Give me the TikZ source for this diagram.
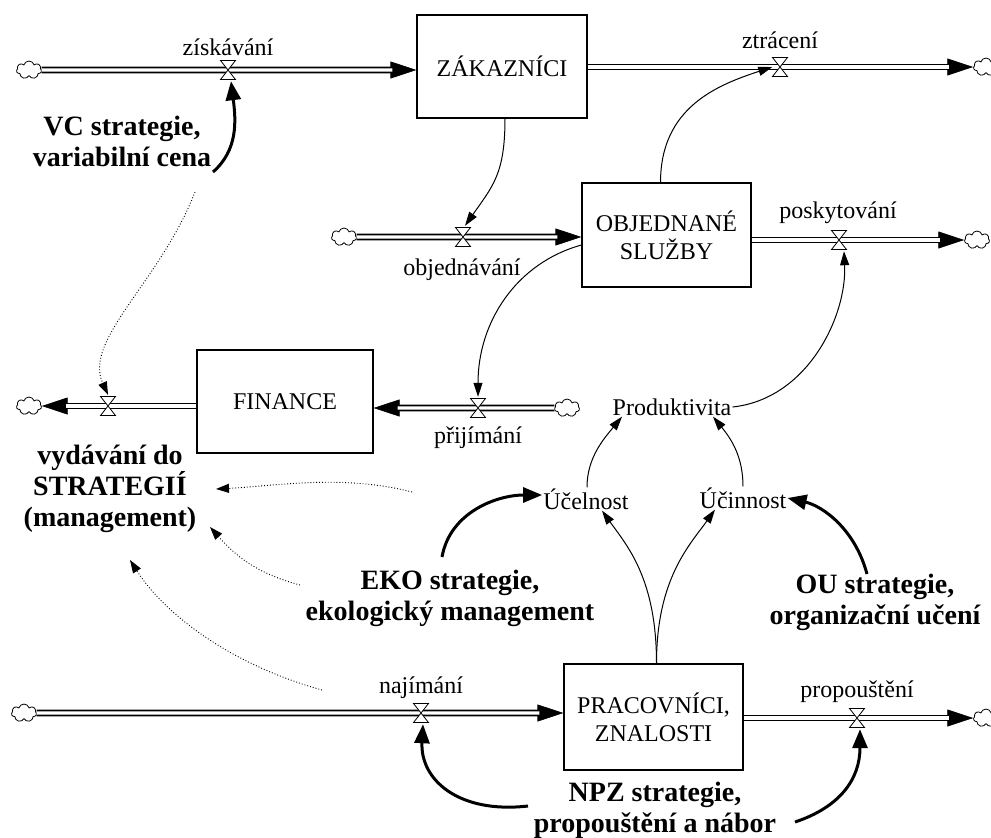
\documentclass[tikz,border=0pt]{standalone}
\usepackage{fontspec}
\setmainfont{Liberation Serif}
\usetikzlibrary{arrows.meta,shapes.symbols,calc}
\newcommand\normtext{\fontsize{24}{28}\selectfont}
\newcommand\strattext{\fontsize{28}{31}\selectfont\bfseries}
\tikzset{
  stockbox/.style={draw, line width=1.1pt, inner sep=0pt, align=center, font=\normtext},
  lbl/.style={font=\normtext, inner sep=1pt},
  strat/.style={font=\strattext, align=center, inner sep=1pt},
  cloudnode/.style={cloud, cloud puffs=7, cloud ignores aspect, draw, line width=0.8pt, minimum width=25pt, minimum height=18pt, inner sep=0pt},
  pipe/.style={draw, double, double distance=3.4pt, line width=1.6pt, shorten >=24pt},
  pipehead/.style={-{Triangle[length=26pt,width=17pt]}, line width=0.6pt},
  valve/.style={minimum width=19pt, minimum height=22pt, inner sep=0pt,
    path picture={\draw[fill=white, line width=0.8pt, line join=miter]
      ([xshift=2pt,yshift=-1.5pt]path picture bounding box.north west) --
      ([xshift=-2pt,yshift=-1.5pt]path picture bounding box.north east) --
      ([xshift=2pt,yshift=1.5pt]path picture bounding box.south west) --
      ([xshift=-2pt,yshift=1.5pt]path picture bounding box.south east) -- cycle;}},
  link/.style={-{Triangle[length=14pt,width=9pt]}, line width=1pt},
  boldlink/.style={-{Triangle[length=19pt,width=15pt]}, line width=3pt},
  dotlink/.style={-{Triangle[length=13pt,width=9pt]}, line width=0.9pt, dotted}
}
\begin{document}
\begin{tikzpicture}[x=1pt,y=-1pt]
\useasboundingbox (0,0) rectangle (991,838);

% stocks
\node[stockbox, minimum width=170pt, minimum height=103pt] (zak) at (502,66.5) {ZÁKAZNÍCI};
\node[stockbox, minimum width=169pt, minimum height=104pt] (obj) at (666.5,235) {OBJEDNANÉ\\SLUŽBY};
\node[stockbox, minimum width=176pt, minimum height=103pt] (fin) at (285,401.5) {FINANCE};
\node[stockbox, minimum width=179pt, minimum height=106pt] (pra) at (653.5,717) {PRACOVNÍCI,\\ZNALOSTI};

% clouds
\node[cloudnode] (c1) at (29,70) {};
\node[cloudnode] (c2) at (986,67) {};
\node[cloudnode] (c3) at (344,237) {};
\node[cloudnode] (c4) at (977,240) {};
\node[cloudnode] (c5) at (567,408) {};
\node[cloudnode] (c6) at (29,406) {};
\node[cloudnode] (c7) at (24,713) {};
\node[cloudnode] (c8) at (986,718) {};

% valve positions
\coordinate (v1p) at (228,70);
\coordinate (v2p) at (780,67);
\coordinate (v3p) at (463,237);
\coordinate (v4p) at (839,240);
\coordinate (v5p) at (478,408);
\coordinate (v6p) at (108,406);
\coordinate (v7p) at (421,713);
\coordinate (v8p) at (857,718);

% pipes: thin arrow underneath, double pipe on top
\draw[pipehead] (v1p) -- (v1p -| zak.west);
\draw[pipe] (c1) -- (v1p -| zak.west);
\draw[pipehead] (v2p) -- (c2.west |- v2p);
\draw[pipe] (v2p -| zak.east) -- (c2.west |- v2p);
\draw[pipehead] (v3p) -- (v3p -| obj.west);
\draw[pipe] (c3) -- (v3p -| obj.west);
\draw[pipehead] (v4p) -- (c4.west |- v4p);
\draw[pipe] (v4p -| obj.east) -- (c4.west |- v4p);
\draw[pipehead] (v5p) -- (v5p -| fin.east);
\draw[pipe] (c5) -- (v5p -| fin.east);
\draw[pipehead] (v6p) -- (c6.east |- v6p);
\draw[pipe] (v6p -| fin.west) -- (c6.east |- v6p);
\draw[pipehead] (v7p) -- (v7p -| pra.west);
\draw[pipe] (c7) -- (v7p -| pra.west);
\draw[pipehead] (v8p) -- (c8.west |- v8p);
\draw[pipe] (v8p -| pra.east) -- (c8.west |- v8p);

% valves
\node[valve] (v1) at (v1p) {};
\node[valve] (v2) at (v2p) {};
\node[valve] (v3) at (v3p) {};
\node[valve] (v4) at (v4p) {};
\node[valve] (v5) at (v5p) {};
\node[valve] (v6) at (v6p) {};
\node[valve] (v7) at (v7p) {};
\node[valve] (v8) at (v8p) {};

% flow labels
\node[lbl] (l1) at (228,47) {získávání};
\node[lbl] (l2) at (780,40) {ztrácení};
\node[lbl] (l3) at (462,270) {objednávání};
\node[lbl] (l4) at (838,213) {poskytování};
\node[lbl] (l5) at (478,438) {přijímání};
\node[lbl] (l7) at (421,688) {najímání};
\node[lbl] (l8) at (857,692) {propouštění};

% auxiliaries
\node[lbl] (prod) at (672,407) {Produktivita};
\node[lbl] (uce) at (586,499) {Účelnost};
\node[lbl] (uci) at (743,498) {Účinnost};

% strategies
\node[strat] (vyd) at (110,489) {vydávání do\\STRATEGIÍ\\(management)};
\node[strat] (vc) at (122,141) {VC strategie,\\variabilní cena};
\node[strat] (eko) at (450,598) {EKO strategie,\\ekologický management};
\node[strat] (ou) at (875,602) {OU strategie,\\organizační učení};
\node[strat] (npz) at (655,810) {NPZ strategie,\\propouštění a nábor};

% free ends
\coordinate (b1s) at (213,172);
\coordinate (b2s) at (442,557);
\coordinate (b3s) at (867,574);
\coordinate (b4s) at (528,806);
\coordinate (b5s) at (795,822);
\coordinate (d1s) at (195,192);
\coordinate (d2s) at (412,492);
\coordinate (d2e) at (216,489);
\coordinate (d3s) at (300,585);
\coordinate (d3e) at (210,527);
\coordinate (d4s) at (322,690);
\coordinate (d4e) at (130,560);

% thin connectors
\draw[link] ([xshift=3pt]zak.south) .. controls +(0,55) and +(28,-40) .. ([xshift=2pt]v3.north);
\draw[link] ([xshift=-6pt]obj.north) .. controls +(0,-75) and +(-55,18) .. ([xshift=2pt]v2.west);
\draw[link] ([yshift=-10pt]obj.west) .. controls +(-65,18) and +(0,-75) .. (v5.north);
\draw[link] (prod.east) .. controls +(75,-8) and +(3,65) .. ([xshift=5pt]v4.south);
\draw[link] ([xshift=1pt]uce.north) .. controls +(0,-30) and +(-18,22) .. ([xshift=-50pt]prod.south);
\draw[link] (uci.north) .. controls +(0,-30) and +(18,22) .. ([xshift=41pt]prod.south);
\draw[link] ([xshift=3pt]pra.north) .. controls +(0,-85) and +(25,35) .. ([xshift=16pt]uce.south);
\draw[link] ([xshift=3pt]pra.north) .. controls +(0,-85) and +(-25,35) .. ([xshift=-28pt]uci.south);

% bold connectors
\draw[boldlink] (b1s) .. controls +(25,-22) and +(5,40) .. ([xshift=3pt]v1.south);
\draw[boldlink] (b2s) .. controls +(8,-45) and +(-45,0) .. ([yshift=4pt]uce.west);
\draw[boldlink] (b3s) .. controls +(-12,-45) and +(35,8) .. (uci.east);
\draw[boldlink] (b4s) .. controls +(-70,8) and +(-3,55) .. ([xshift=2pt]v7.south);
\draw[boldlink] (b5s) .. controls +(45,-15) and +(0,50) .. ([xshift=3pt]v8.south);

% dotted connectors
\draw[dotlink] (d1s) .. controls +(-35,90) and +(-25,-55) .. (v6.north);
\draw[dotlink] (d2s) .. controls +(-70,-18) and +(60,-3) .. (d2e);
\draw[dotlink] (d3s) .. controls +(-45,-12) and +(25,28) .. (d3e);
\draw[dotlink] (d4s) .. controls +(-90,-25) and +(35,55) .. (d4e);
\end{tikzpicture}
\end{document}
